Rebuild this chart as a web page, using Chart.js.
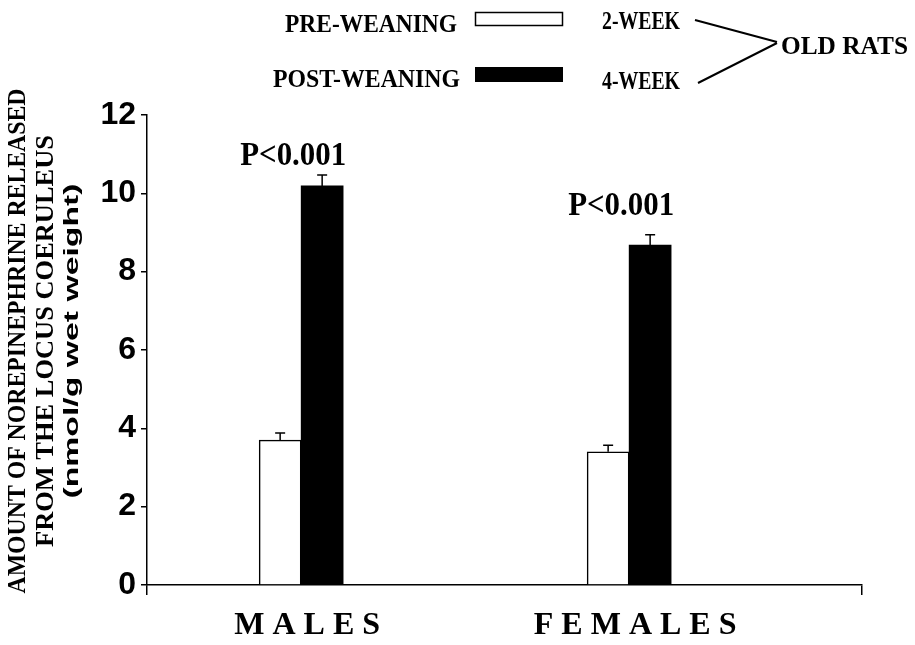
<!DOCTYPE html>
<html><head><meta charset="utf-8">
<script src="https://cdn.jsdelivr.net/npm/chart.js@4.4.1/dist/chart.umd.min.js"></script>
<style>html,body{margin:0;padding:0;background:#fff;} canvas{display:block;}</style>
</head><body>
<canvas id="c" width="915" height="645"></canvas>
<script>
// ---- data ----
const categories = ['MALES', 'FEMALES'];
const seriesNames = ['PRE-WEANING', 'POST-WEANING'];
const ageLabels = ['2-WEEK', '4-WEEK'];
const groupLabel = 'OLD RATS';
const preWeaning = [3.70, 3.40];
const postWeaning = [10.19, 8.68];
const preWeaningErr = [0.18, 0.17];
const postWeaningErr = [0.28, 0.26];
const pLabels = ['P<0.001', 'P<0.001'];
const yTickValues = [0, 2, 4, 6, 8, 10, 12];
const yTitleLines = ['AMOUNT OF NOREPINEPHRINE RELEASED', 'FROM THE LOCUS COERULEUS', '(nmol/g wet weight)'];

const SERIF = "'Liberation Serif', 'Times New Roman', serif";
const SANS = "'Liberation Sans', Arial, sans-serif";

function fitText(ctx, text, x, y, target, sy) {
  const w = ctx.measureText(text).width;
  const s = target ? target / w : 1;
  ctx.save();
  ctx.translate(x, y);
  ctx.scale(s, sy || 1);
  ctx.fillText(text, 0, 0);
  ctx.restore();
}

const decor = {
  id: 'decor',
  beforeDraw(chart) {
    const ctx = chart.ctx;
    ctx.save();
    ctx.fillStyle = '#fff';
    ctx.fillRect(0, 0, chart.width, chart.height);
    ctx.restore();
  },
  afterDatasetsDraw(chart) {
    const ctx = chart.ctx;
    const y = chart.scales.y;
    const errs = [preWeaningErr, postWeaningErr];
    const vals = [preWeaning, postWeaning];
    ctx.save();
    ctx.strokeStyle = '#000';
    ctx.lineWidth = 1.5;
    const caps = [];
    chart.data.datasets.forEach((ds, di) => {
      const meta = chart.getDatasetMeta(di);
      meta.data.forEach((el, i) => {
        const top = y.getPixelForValue(vals[di][i] + errs[di][i]);
        ctx.beginPath();
        ctx.moveTo(el.x, el.y);
        ctx.lineTo(el.x, top);
        ctx.moveTo(el.x - 5, top);
        ctx.lineTo(el.x + 5, top);
        ctx.stroke();
        if (di === 1) caps[i] = { x: el.x, top };
      });
    });
    ctx.fillStyle = '#000';
    ctx.font = 'bold 29px ' + SERIF;
    ctx.textAlign = 'center';
    ctx.textBaseline = 'alphabetic';
    const gaps = [10, 20];
    pLabels.forEach((t, i) => {
      const c = caps[i];
      fitText(ctx, t, c.x - 29, c.top - gaps[i], 106, 1.15);
    });
    ctx.restore();
  },
  afterDraw(chart) {
    const ctx = chart.ctx;
    ctx.save();
    ctx.fillStyle = '#000';
    // y axis title (three lines, rotated)
    const titleX = [18, 46, 72];
    const titleLen = [505, 412, 315];
    const titleFonts = ['bold 26px ' + SERIF, 'bold 26px ' + SERIF, 'bold 21px ' + SANS];
    yTitleLines.forEach((t, i) => {
      ctx.save();
      ctx.translate(titleX[i], 341);
      ctx.rotate(-Math.PI / 2);
      ctx.font = titleFonts[i];
      ctx.textAlign = 'center';
      ctx.textBaseline = 'middle';
      fitText(ctx, t, 0, 0, titleLen[i]);
      ctx.restore();
    });
    // legend
    ctx.font = 'bold 24px ' + SERIF;
    ctx.textBaseline = 'alphabetic';
    ctx.textAlign = 'right';
    fitText(ctx, seriesNames[0], 457, 32, 172, 1.05);
    fitText(ctx, seriesNames[1], 460, 87, 187, 1.05);
    ctx.lineWidth = 1.5;
    ctx.strokeStyle = '#000';
    ctx.fillStyle = '#fff';
    ctx.fillRect(475.5, 12.5, 87, 13);
    ctx.strokeRect(475.5, 12.5, 87, 13);
    ctx.fillStyle = '#000';
    ctx.fillRect(475, 67, 88, 15);
    ctx.textAlign = 'left';
    ctx.font = 'bold 24px ' + SERIF;
    fitText(ctx, ageLabels[0], 602, 29, 78, 1.05);
    fitText(ctx, ageLabels[1], 602, 89, 78, 1.05);
    ctx.lineWidth = 2;
    ctx.beginPath();
    ctx.moveTo(695, 20); ctx.lineTo(777, 42);
    ctx.moveTo(698, 83); ctx.lineTo(777, 43);
    ctx.stroke();
    ctx.font = 'bold 25px ' + SERIF;
    fitText(ctx, groupLabel, 781, 54, 127, 1.05);
    ctx.restore();
  }
};

const xMin = -0.47, xMax = 1.71;

new Chart(document.getElementById('c'), {
  type: 'bar',
  data: {
    datasets: [
      {
        label: seriesNames[0],
        data: preWeaning.map((v, i) => ({ x: i, y: v })),
        backgroundColor: '#fff',
        borderColor: '#000',
        borderWidth: 1.5,
        borderSkipped: 'bottom',
        barThickness: 42
      },
      {
        label: seriesNames[1],
        data: postWeaning.map((v, i) => ({ x: i, y: v })),
        backgroundColor: '#000',
        borderColor: '#000',
        borderWidth: 0,
        barThickness: 42
      }
    ]
  },
  options: {
    responsive: false,
    animation: false,
    devicePixelRatio: 1,
    layout: { padding: { left: 0, right: 53, top: 115, bottom: 0 } },
    plugins: { legend: { display: false }, tooltip: { enabled: false } },
    scales: {
      x: {
        type: 'linear',
        min: xMin,
        max: xMax,
        offset: false,
        afterBuildTicks: (s) => { s.ticks = [xMin, 0, 1, xMax].map(v => ({ value: v })); },
        afterFit: (s) => { s.height = 60; },
        grid: {
          offset: false,
          drawOnChartArea: false,
          drawTicks: true,
          tickLength: 10,
          lineWidth: 1.5,
          color: (c) => (c.index === 0 || c.index === 3) ? '#000' : 'rgba(0,0,0,0)'
        },
        border: { display: true, color: '#000', width: 1.5 },
        ticks: {
          autoSkip: false,
          maxRotation: 0,
          padding: 12,
          labelOffset: 6,
          color: '#000',
          font: { family: SERIF, size: 32, weight: 'bold' },
          callback: (v) => (Number.isInteger(v) && categories[v]) ? categories[v].split('').join(' ') : ''
        }
      },
      y: {
        min: 0,
        max: 12,
        afterBuildTicks: (s) => { s.ticks = yTickValues.map(v => ({ value: v })); },
        afterFit: (s) => { s.width = 147; },
        grid: { drawOnChartArea: false, drawTicks: true, tickLength: 6, color: '#000', lineWidth: 1.5 },
        border: { display: true, color: '#000', width: 1.5 },
        ticks: {
          padding: 5,
          color: '#000',
          font: { family: SANS, size: 32, weight: 'bold' }
        }
      }
    }
  },
  plugins: [decor]
});
</script>
</body></html>
